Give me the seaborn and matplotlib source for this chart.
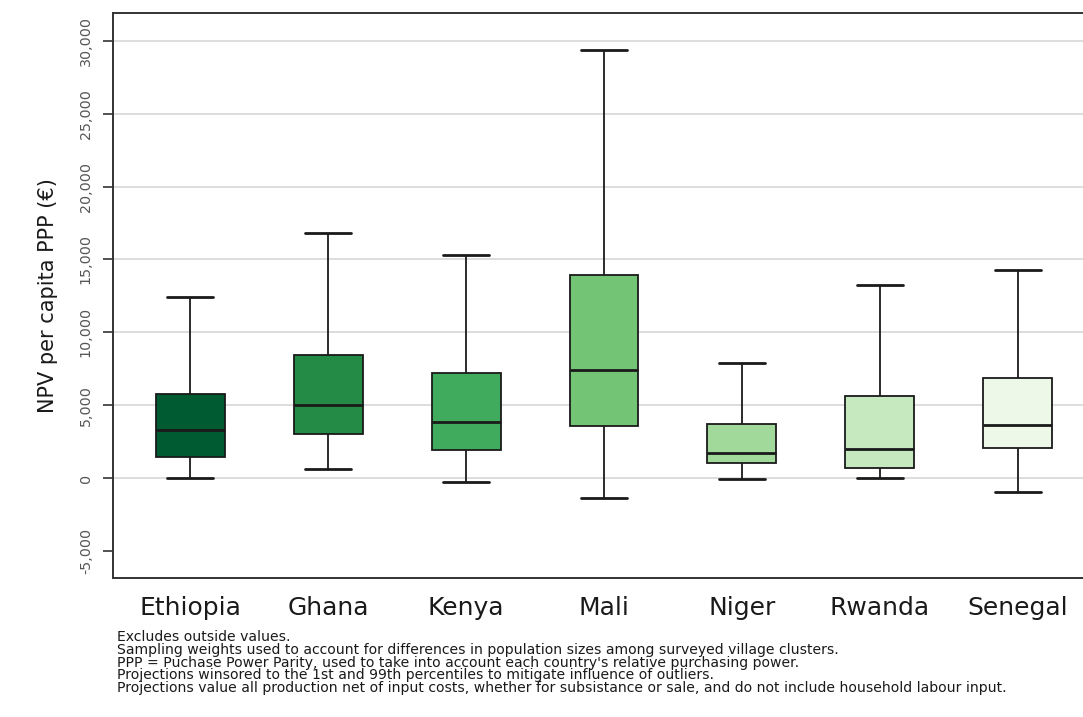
import numpy as np
import pandas as pd
import matplotlib
matplotlib.use("Agg")
import matplotlib.pyplot as plt
import seaborn as sns

# ===================== DATA =====================
countries = ["Ethiopia", "Ghana", "Kenya", "Mali", "Niger", "Rwanda", "Senegal"]
whisker_low = [0, 650, -250, -1350, -100, 0, -950]
q1 = [1450, 3050, 1900, 3550, 1050, 700, 2050]
median = [3300, 5000, 3850, 7400, 1750, 2000, 3650]
q3 = [5750, 8450, 7200, 13950, 3700, 5650, 6850]
whisker_high = [12450, 16800, 15300, 29400, 7900, 13250, 14300]
box_colors = ["#005a32", "#238b45", "#41ab5d", "#74c476", "#a1d99b", "#c7e9c0", "#edf8e9"]

y_ticks = [-5000, 0, 5000, 10000, 15000, 20000, 25000, 30000]
notes = [
    "Excludes outside values.",
    "Sampling weights used to account for differences in population sizes among surveyed village clusters.",
    "PPP = Puchase Power Parity, used to take into account each country's relative purchasing power.",
    "Projections winsored to the 1st and 99th percentiles to mitigate influence of outliers.",
    "Projections value all production net of input costs, whether for subsistance or sale, and do not include household labour input.",
]

# five summary values per country -> quartiles come out exactly with whis=(0, 100)
rows = []
for i, c in enumerate(countries):
    for v in (whisker_low[i], q1[i], median[i], q3[i], whisker_high[i]):
        rows.append({"country": c, "npv": v})
df = pd.DataFrame(rows)

# ===================== PLOT =====================
sns.set_style("white")
plt.rcParams["font.family"] = ["DejaVu Sans"]

fig = plt.figure(figsize=(10.83, 7.17), dpi=100)
ax = fig.add_axes([113 / 1083, 139 / 717, 982 / 1083, 565 / 717])

line_c = "#1a1a1a"
sns.boxplot(data=df, x="country", y="npv", hue="country", palette=box_colors,
            order=countries, hue_order=countries, legend=False,
            whis=(0, 100), width=0.5, saturation=1, linecolor=line_c,
            linewidth=1.2, showfliers=False, ax=ax,
            capwidths=0.33,
            boxprops=dict(edgecolor=line_c, linewidth=1.3),
            medianprops=dict(color=line_c, linewidth=2.0),
            whiskerprops=dict(color=line_c, linewidth=1.3),
            capprops=dict(color=line_c, linewidth=2.0))

ax.set_xlim(-0.56, 6.56)
ax.set_ylim(-6865, 31922)
ax.set_yticks(y_ticks)
ax.set_yticklabels([f"{t:,}" for t in y_ticks], rotation=90, va="center",
                   fontsize=10.3, color="#555555")
ax.tick_params(axis="y", length=7.5, width=1.2, color="#333333", pad=7, left=True)
ax.tick_params(axis="x", length=0, pad=13, labelsize=18, labelcolor="#1a1a1a")

for t in y_ticks:
    if t >= 0:
        ax.axhline(t, color="#dddddd", linewidth=1.4, zorder=0)

ax.set_xlabel("")
ax.set_ylabel("NPV per capita PPP (€)", fontsize=15, color="#1a1a1a", labelpad=15)

for side in ["left", "bottom", "top", "right"]:
    ax.spines[side].set_color("#333333")
    ax.spines[side].set_linewidth(1.4)

for k, note in enumerate(notes):
    fig.text(117 / 1083, 1 - (637 + 12.8 * k) / 717, note, fontsize=10.1,
             va="center", ha="left", color="#1a1a1a")

fig.savefig("out.png", dpi=100)
